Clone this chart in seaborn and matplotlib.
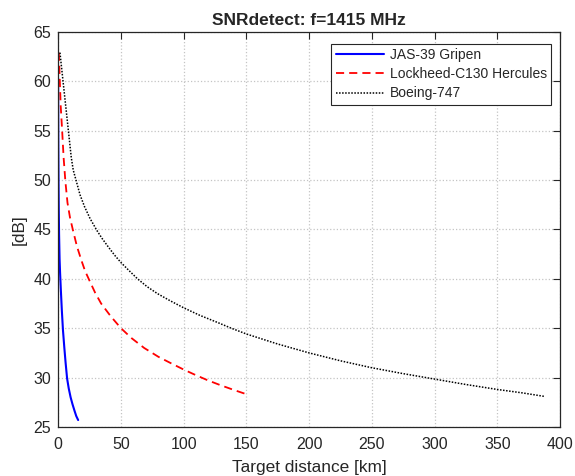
import matplotlib
matplotlib.use("Agg")
import matplotlib.pyplot as plt
import seaborn as sns
import pandas as pd

names = ["JAS-39 Gripen", "Lockheed-C130 Hercules", "Boeing-747"]

gripen_x = [0.05, 0.1, 0.2, 0.35, 0.55, 0.8, 1.2, 1.6, 2.2, 3.0, 3.9, 5.0, 6.0, 7.2, 8.5, 10.0, 11.5, 13.2, 14.5, 16.0]
gripen_y = [60.3, 57.5, 53.5, 50.0, 47.0, 44.5, 42.0, 40.6, 38.9, 36.8, 34.8, 33.0, 31.5, 29.9, 28.9, 28.0, 27.3, 26.6, 26.1, 25.7]

herc_x = [0.6, 1.4, 2.1, 3.2, 4.4, 5.8, 7.5, 9.5, 11.9, 15.0, 18.5, 21.5, 25.1, 29.5, 34.3, 42.0,
          50.1, 58.5, 68.6, 80.0, 90.0, 100.3, 108.0, 118.8, 129.0, 140.0, 150.5]
herc_y = [62.9, 60.0, 57.5, 55.1, 52.3, 49.9, 47.7, 46.2, 44.9, 43.3, 41.9, 40.8, 39.8, 38.6, 37.5, 36.2,
          35.0, 34.0, 33.0, 32.1, 31.45, 30.8, 30.35, 29.75, 29.25, 28.75, 28.3]

boeing_x = [1.5, 10.5, 12.1, 14.5, 17.5, 21.1, 25.5, 30.9, 35.0, 39.6, 45.0, 50.1, 56.0, 63.3, 71.0,
            79.2, 89.0, 100.3, 113.0, 126.7, 138.0, 150.4, 175.0, 200.0, 225.0, 249.8, 275.0,
            300.0, 325.0, 349.9, 370.0, 387.3]
boeing_y = [62.9, 52.3, 51.0, 49.9, 48.5, 47.3, 46.1, 44.9, 44.1, 43.3, 42.4, 41.65, 40.9, 40.0, 39.2,
            38.5, 37.8, 37.05, 36.3, 35.6, 35.0, 34.4, 33.4, 32.5, 31.7, 31.0, 30.4,
            29.85, 29.3, 28.8, 28.45, 28.1]

xticks = [0, 50, 100, 150, 200, 250, 300, 350, 400]
yticks = [25, 30, 35, 40, 45, 50, 55, 60, 65]

sns.set_style("white")
plt.rcParams['font.family'] = ['Liberation Sans', 'DejaVu Sans']

fig = plt.figure(figsize=(5.75, 4.76), dpi=100)
ax = fig.add_axes([0.101, 0.103, 0.873, 0.830])

series = [(gripen_x, gripen_y, "#0000FF", "-", 1.5),
          (herc_x, herc_y, "#FF0000", (0, (4.5, 2.8)), 1.3),
          (boeing_x, boeing_y, "#000000", (0, (1, 1)), 1.1)]
for name, (xs, ys, c, ls, lw) in zip(names, series):
    df = pd.DataFrame({"x": xs, "y": ys})
    sns.lineplot(data=df, x="x", y="y", ax=ax, color=c, linestyle=ls,
                 linewidth=lw, label=name, sort=False, estimator=None)

ax.set_xlim(0, 400)
ax.set_ylim(25, 65)
ax.set_xticks(xticks)
ax.set_yticks(yticks)
ax.grid(True, color="#c4c4c4", linestyle=":", linewidth=0.9)
ax.tick_params(direction="in", length=5, width=0.8, top=True, right=True,
               labelsize=11.5, colors="#262626")
ax.tick_params(axis="x", pad=7)
ax.tick_params(axis="y", pad=5)
for s in ax.spines.values():
    s.set_color("#262626")
    s.set_linewidth(0.9)

ax.set_xlabel("Target distance [km]", fontsize=12.4, color="#262626", labelpad=6)
ax.set_ylabel("[dB]", fontsize=12.4, color="#262626", labelpad=5)
ax.set_title("SNRdetect: f=1415 MHz", fontsize=12.5, fontweight="bold", pad=5)

leg = ax.legend(loc="upper right", bbox_to_anchor=(0.982, 0.970), fontsize=10,
                frameon=True, fancybox=False, framealpha=1, edgecolor="#262626",
                borderpad=0.3, handlelength=3.5, handletextpad=0.4, labelspacing=0.38,
                borderaxespad=0.0)
leg.get_frame().set_linewidth(0.8)

fig.savefig("out.png", dpi=100)
